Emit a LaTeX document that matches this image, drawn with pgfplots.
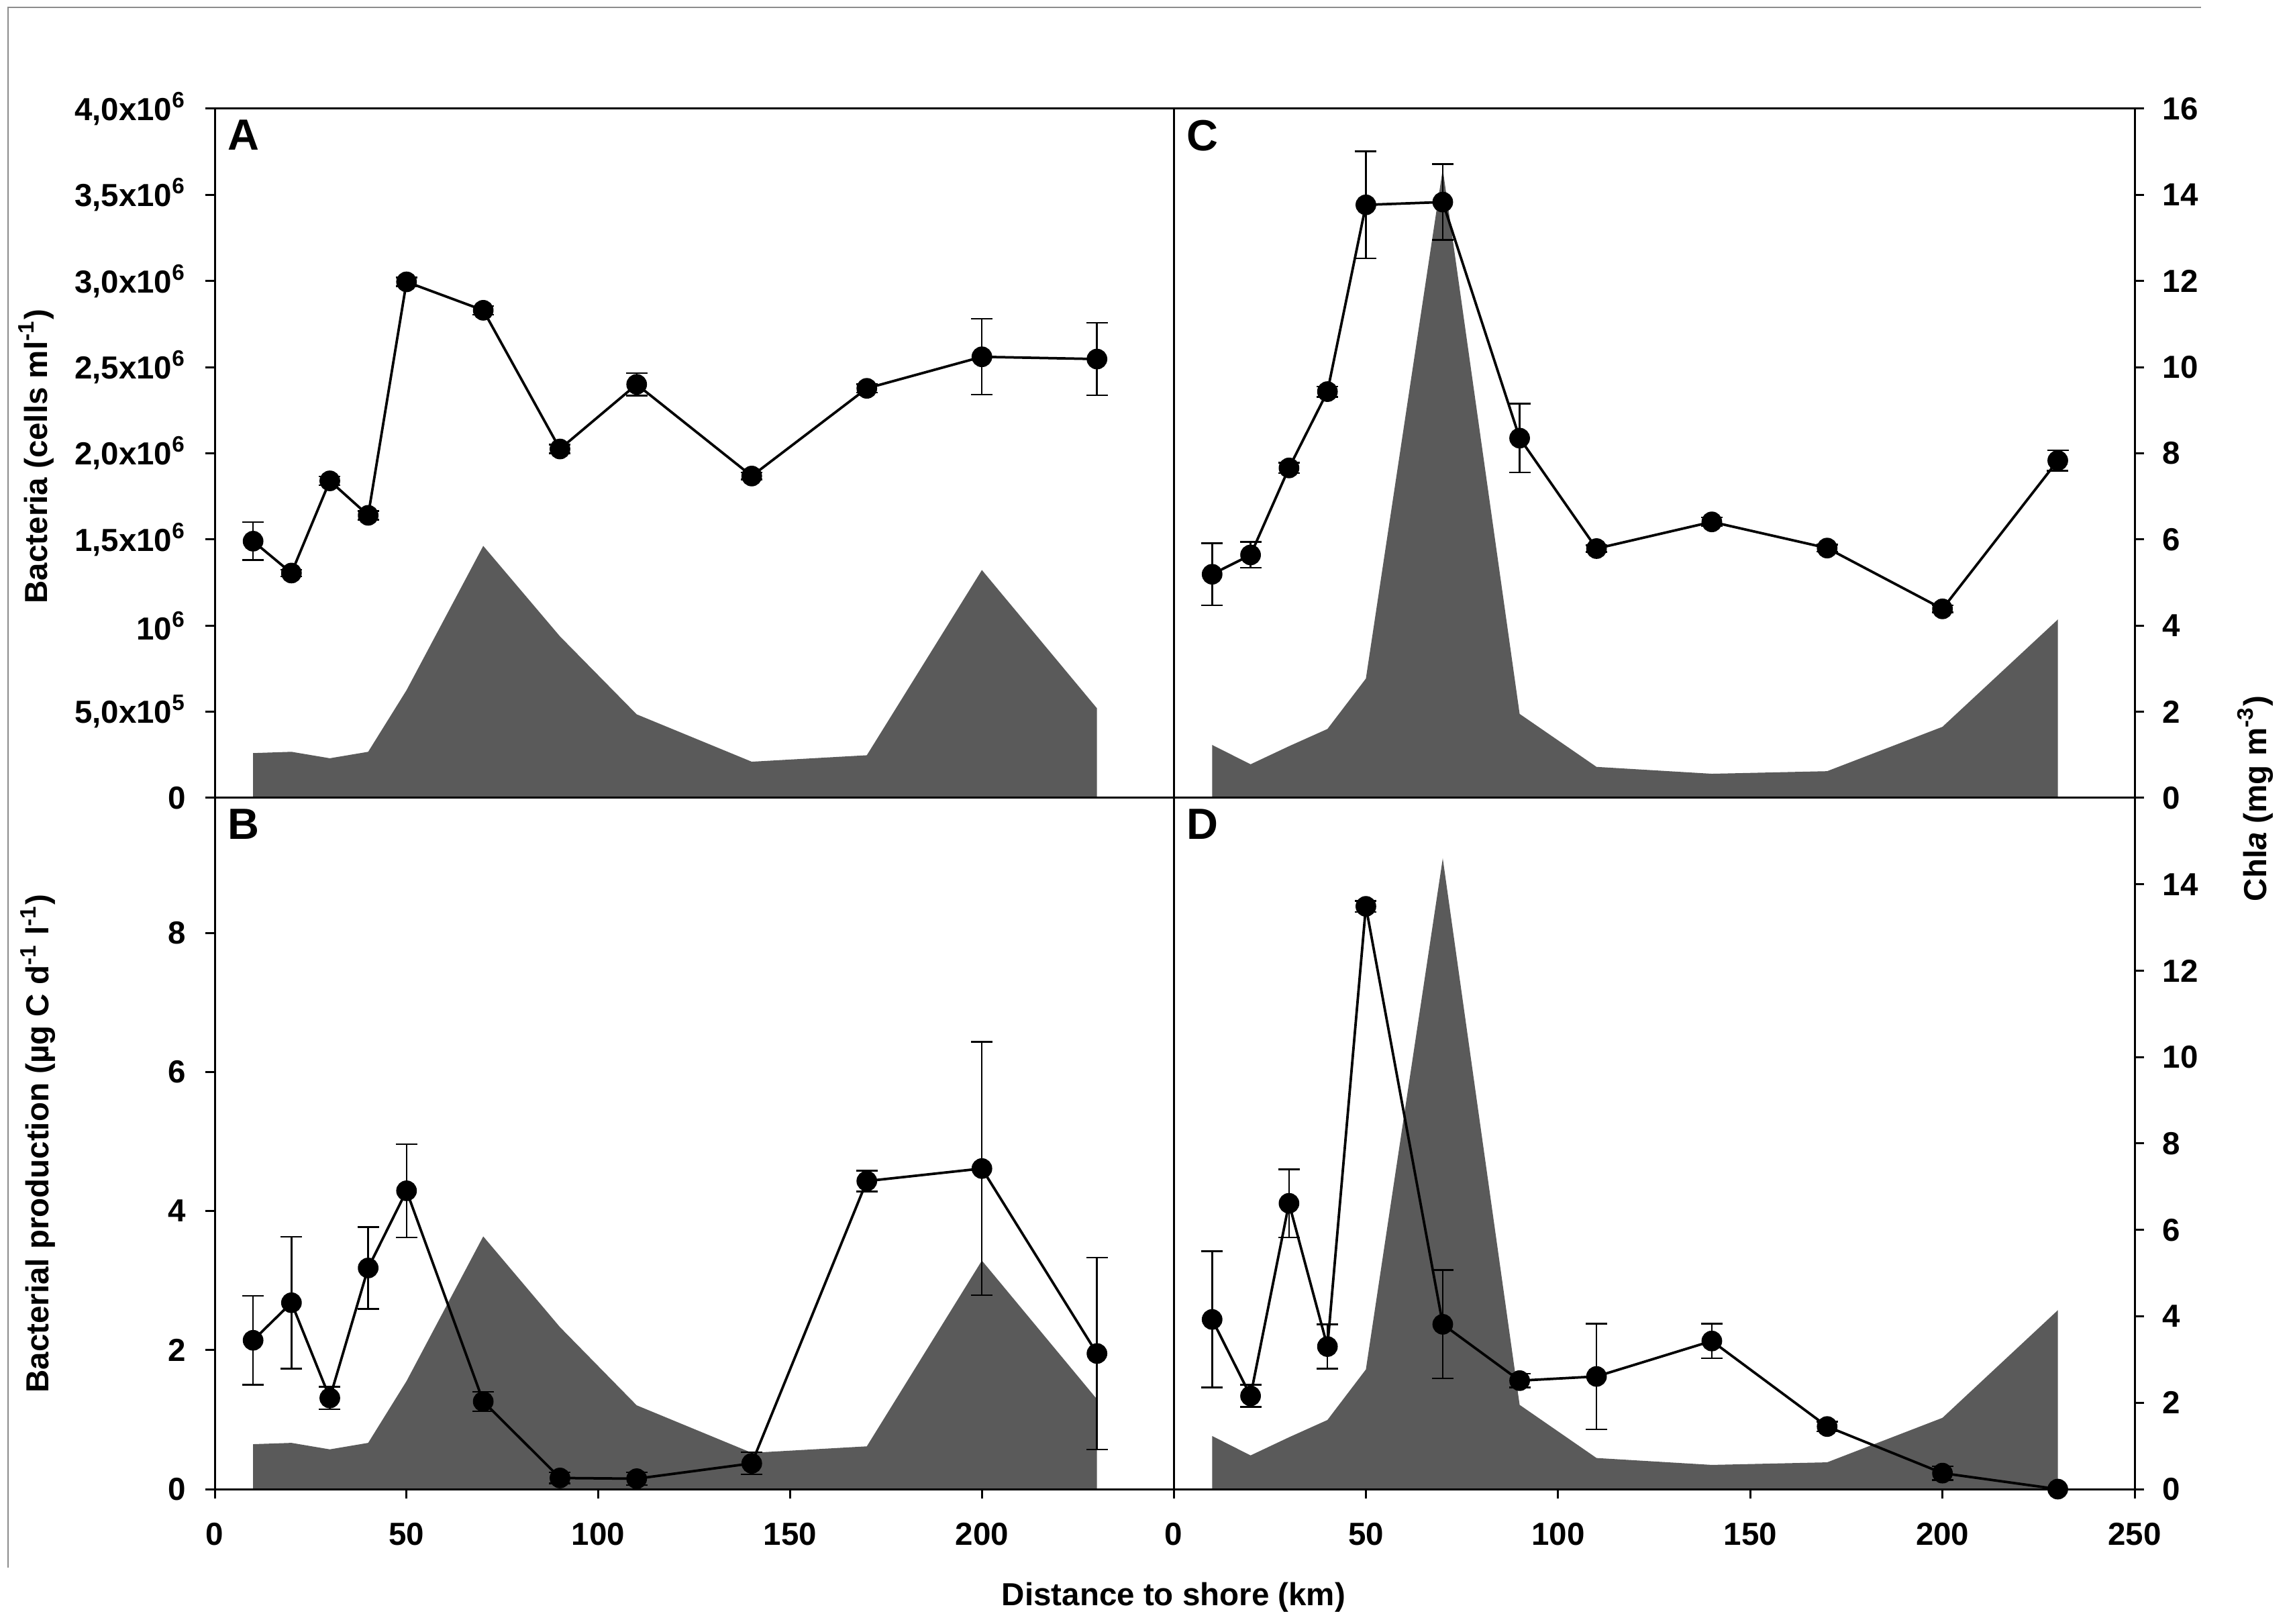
\documentclass[border=0pt]{standalone}
\usepackage{fontspec}
\setmainfont{Liberation Sans}
\usepackage{pgfplots}
\usepackage{pgfplotstable}
\pgfplotsset{compat=1.18}
\definecolor{areagray}{RGB}{90,90,90}
\definecolor{framegray}{RGB}{140,140,140}
\newcommand\tfont{\bfseries\fontsize{9.5}{11}\selectfont}
\newcommand\lfont{\bfseries\fontsize{9.5}{11}\selectfont}
\newcommand\pfont{\bfseries\fontsize{13}{15}\selectfont}

\pgfplotstableread{
x c
10 1.04
20 1.07
30 0.92
40 1.07
50 2.50
70 5.85
90 3.75
110 1.94
140 0.84
170 0.99
200 5.29
230 2.08
}\chlone

\pgfplotstableread{
x c
10 1.23
20 0.78
30 1.20
40 1.60
50 2.77
70 14.6
90 1.95
110 0.72
140 0.56
170 0.62
200 1.65
230 4.14
}\chltwo

\pgfplotstableread{
x y e
10 1.490e6 0.110e6
20 1.305e6 0.020e6
30 1.840e6 0.025e6
40 1.640e6 0.025e6
50 2.995e6 0.025e6
70 2.830e6 0.025e6
90 2.025e6 0.025e6
110 2.400e6 0.065e6
140 1.868e6 0.020e6
170 2.377e6 0.025e6
200 2.560e6 0.220e6
230 2.547e6 0.210e6
}\bacone

\pgfplotstableread{
x y e
10 1.298e6 0.180e6
20 1.410e6 0.075e6
30 1.915e6 0.030e6
40 2.358e6 0.030e6
50 3.442e6 0.310e6
70 3.458e6 0.220e6
90 2.088e6 0.200e6
110 1.447e6 0.020e6
140 1.602e6 0.025e6
170 1.450e6 0.020e6
200 1.097e6 0.020e6
230 1.958e6 0.060e6
}\bactwo

\pgfplotstableread{
x y e
10 2.14 0.64
20 2.68 0.95
30 1.31 0.16
40 3.18 0.59
50 4.29 0.67
70 1.26 0.14
90 0.16 0.08
110 0.15 0.09
140 0.37 0.16
170 4.43 0.15
200 4.61 1.82
230 1.95 1.38
}\prodone

\pgfplotstableread{
x y e
10 2.44 0.98
20 1.34 0.16
30 4.11 0.49
40 2.05 0.32
50 8.38 0.08
70 2.37 0.78
90 1.56 0.10
110 1.62 0.76
140 2.13 0.25
170 0.90 0.07
200 0.23 0.10
230 0.00 0.00
}\prodtwo

\pgfplotsset{
  base/.style={scale only axis, xmin=0, xmax=250, anchor=south west,
    axis line style={line width=0.6pt, black},
    tick style={line width=0.6pt, black},
    tick align=outside, major tick length=2.8pt, minor tick num=0,
    ticklabel style={font=\tfont},
    /pgf/number format/assume math mode=true,
    scaled y ticks=false, scaled x ticks=false, clip=false},
  topsize/.style={height=205.4pt},
  botsize/.style={height=206pt},
  leftsize/.style={width=285.8pt},
  rightsize/.style={width=286.4pt},
  chlarea/.style={fill=areagray, draw=none},
  dataline/.style={black, line width=0.75pt, mark=*, mark size=2.7pt,
    mark options={solid, fill=black, draw=black},
    error bars/.cd, y dir=both, y explicit, error mark=-,
    error bar style={line width=0.5pt, black},
    error mark options={rotate=90, mark size=3.2pt, line width=0.5pt, black}},
}

\begin{document}
\begin{tikzpicture}
\path (0pt,0pt) rectangle (684pt,483.8pt);
\draw[framegray, line width=0.4pt] (2.3pt,16.6pt) -- (2.3pt,481.6pt) -- (656pt,481.6pt);

% ---------- Panel A ----------
\begin{axis}[base, topsize, leftsize, at={(64pt,246pt)}, ymin=0, ymax=16, hide axis]
\addplot[chlarea] table[x=x,y=c]{\chlone} \closedcycle;
\end{axis}
\begin{axis}[base, topsize, leftsize, at={(64pt,246pt)}, ymin=0, ymax=4e6,
  xtick=\empty, ytick pos=left,
  ytick={0,5e5,1e6,1.5e6,2e6,2.5e6,3e6,3.5e6,4e6},
  yticklabels={0,{5,0x10\textsuperscript{5}},{10\textsuperscript{6}},{1,5x10\textsuperscript{6}},{2,0x10\textsuperscript{6}},{2,5x10\textsuperscript{6}},{3,0x10\textsuperscript{6}},{3,5x10\textsuperscript{6}},{4,0x10\textsuperscript{6}}},
  yticklabel style={xshift=-2.2pt}]
\addplot[dataline] table[x=x,y=y,y error=e]{\bacone};
\node[anchor=north west, inner sep=0pt, font=\pfont] at ([xshift=3.7pt,yshift=-3.2pt]rel axis cs:0,1) {A};
\end{axis}

% ---------- Panel B ----------
\begin{axis}[base, botsize, leftsize, at={(64pt,40pt)}, ymin=0, ymax=16, hide axis]
\addplot[chlarea] table[x=x,y=c]{\chlone} \closedcycle;
\end{axis}
\begin{axis}[base, botsize, leftsize, at={(64pt,40pt)}, ymin=0, ymax=9.94,
  xtick={0,50,100,150,200}, xtick pos=bottom,
  ytick={0,2,4,6,8}, ytick pos=left,
  yticklabel style={xshift=-2.2pt}, xticklabel style={yshift=-3.8pt}]
\addplot[dataline] table[x=x,y=y,y error=e]{\prodone};
\node[anchor=north west, inner sep=0pt, font=\pfont] at ([xshift=3.7pt,yshift=-3.2pt]rel axis cs:0,1) {B};
\end{axis}

% ---------- Panel C ----------
\begin{axis}[base, topsize, rightsize, at={(349.8pt,246pt)}, ymin=0, ymax=16,
  axis x line=none, axis y line*=right,
  ytick={0,2,...,16}, yticklabel style={xshift=2pt}]
\addplot[chlarea] table[x=x,y=c]{\chltwo} \closedcycle;
\end{axis}
\begin{axis}[base, topsize, rightsize, at={(349.8pt,246pt)}, ymin=0, ymax=4e6,
  xtick=\empty, ytick=\empty]
\addplot[dataline] table[x=x,y=y,y error=e]{\bactwo};
\node[anchor=north west, inner sep=0pt, font=\pfont] at ([xshift=3.7pt,yshift=-3.2pt]rel axis cs:0,1) {C};
\end{axis}

% ---------- Panel D ----------
\begin{axis}[base, botsize, rightsize, at={(349.8pt,40pt)}, ymin=0, ymax=16,
  axis x line=none, axis y line*=right,
  ytick={0,2,...,14}, yticklabel style={xshift=2pt}]
\addplot[chlarea] table[x=x,y=c]{\chltwo} \closedcycle;
\end{axis}
\begin{axis}[base, botsize, rightsize, at={(349.8pt,40pt)}, ymin=0, ymax=9.94,
  xtick={0,50,...,250}, xtick pos=bottom, ytick=\empty,
  xticklabel style={yshift=-3.8pt}]
\addplot[dataline] table[x=x,y=y,y error=e]{\prodtwo};
\node[anchor=north west, inner sep=0pt, font=\pfont] at ([xshift=3.7pt,yshift=-3.2pt]rel axis cs:0,1) {D};
\end{axis}

% ---------- Axis titles ----------
\node[rotate=90, anchor=base, font=\lfont] at (14pt,347.8pt) {Bacteria (cells ml\textsuperscript{-1})};
\node[rotate=90, anchor=base, font=\lfont] at (14.5pt,143.0pt) {Bacterial production (µg C d\textsuperscript{-1} l\textsuperscript{-1})};
\node[rotate=90, anchor=base, font=\lfont] at (675.4pt,245.8pt) {Chl\textit{a} (mg m\textsuperscript{-3})};
\node[anchor=base, font=\lfont] at (349.8pt,5.4pt) {Distance to shore (km)};
\end{tikzpicture}
\end{document}
